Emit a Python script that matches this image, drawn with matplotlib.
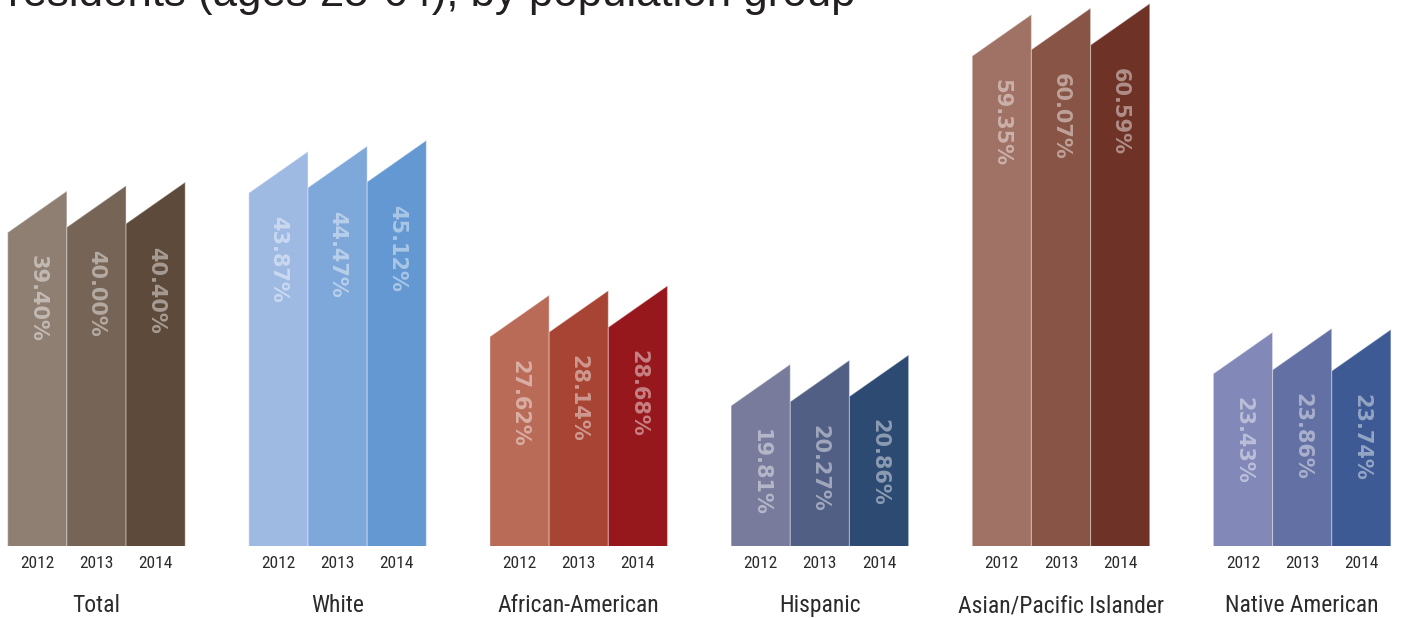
import matplotlib
matplotlib.use("Agg")
import matplotlib.pyplot as plt
from matplotlib.transforms import blended_transform_factory

# data
groups = ["Total", "White", "African-American", "Hispanic",
          "Asian/Pacific Islander", "Native American"]
years = ["2012", "2013", "2014"]
pct_2012 = [39.40, 43.87, 27.62, 19.81, 59.35, 23.43]
pct_2013 = [40.00, 44.47, 28.14, 20.27, 60.07, 23.86]
pct_2014 = [40.40, 45.12, 28.68, 20.86, 60.59, 23.74]
title = "residents (ages 25-64), by population group"

# one colour per year, per group
colors = [
    ["#8f7f73", "#766456", "#5d4a3a"],
    ["#9fbae2", "#7ea7da", "#6398d2"],
    ["#b96b58", "#a84433", "#97181c"],
    ["#787b9b", "#525f85", "#2c4a72"],
    ["#a07265", "#885445", "#6e3227"],
    ["#8289b8", "#6370a3", "#3d5a95"],
]

narrow = ["Roboto Condensed", "Liberation Sans", "DejaVu Sans"]
bar_w = 0.2454
slant = 4.69       # rise of the slanted top, in data units
label_gap = 2.6    # distance from the top corner to the value label

fig = plt.figure(figsize=(14.01, 6.18), dpi=100)
ax = fig.add_axes([0, 72 / 618, 1, 546 / 618])
ax.set_xlim(-0.40, 5.41)
ax.set_ylim(3.95, 65.68)
ax.axis("off")

series = [pct_2012, pct_2013, pct_2014]
trans = blended_transform_factory(ax.transData, fig.transFigure)

for i, g in enumerate(groups):
    for j, vals in enumerate(series):
        v = vals[i]
        x0 = i + (j - 1.5) * bar_w
        x1 = x0 + bar_w
        ax.fill([x0, x1, x1, x0], [0, 0, v + slant, v],
                color=colors[i][j], edgecolor=(1, 1, 1, 0.35), linewidth=0.8)
        xc = x0 + bar_w / 2
        ax.text(xc, v - label_gap, f"{v:.2f}%", rotation=270,
                ha="center", va="top", fontsize=15, fontweight="bold",
                family=["DejaVu Sans"], color="white", alpha=0.45)
        ax.text(xc, 1 - 567.7 / 618, years[j], transform=trans,
                ha="center", va="baseline", fontsize=12.5,
                family=narrow, color="#2b2b2b")
    ax.text(i, 1 - 612.3 / 618, g, transform=trans, ha="center",
            va="baseline", fontsize=17, family=narrow, color="#2b2b2b")

fig.text(8 / 1401, 1 - 6 / 618, title, ha="left", va="baseline",
         fontsize=31.5, family=["Liberation Sans", "DejaVu Sans"],
         color="#231f20")

fig.savefig("out.png", dpi=100)
